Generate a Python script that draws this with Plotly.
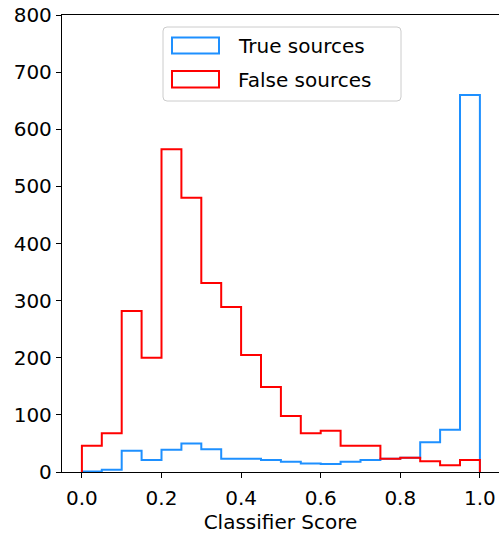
import plotly.graph_objects as go

bin_edges = [round(i * 0.05, 2) for i in range(21)]
true_counts = [1, 4, 37, 21, 39, 50, 40, 23, 23, 21, 18, 15, 14, 18, 21, 23, 25, 52, 74, 660]
false_counts = [46, 68, 282, 200, 565, 480, 331, 289, 205, 149, 98, 68, 72, 46, 46, 23, 25, 19, 12, 21]
series_names = ["True sources", "False sources"]
series_colors = ["#1E90FF", "#FF0000"]
x_ticks = [0.0, 0.2, 0.4, 0.6, 0.8, 1.0]
y_ticks = [0, 100, 200, 300, 400, 500, 600, 700, 800]

W, H = 499, 541
L, R, T, B = 62, 0, 15, 69
FS = 20

fig = go.Figure()
for name, counts, color in zip(series_names, [true_counts, false_counts], series_colors):
    xs = [bin_edges[0]] + bin_edges + [bin_edges[-1]]
    ys = [0] + counts + [counts[-1], 0]
    fig.add_trace(go.Scatter(x=xs, y=ys, mode="lines", line=dict(color=color, width=2, shape="hv"),
                             name=name, showlegend=False, hoverinfo="skip"))

pw = W - L - R
ph = H - T - B


def px(x):
    return (x - L) / pw


def py(y):
    return 1 - (y - T) / ph


shapes = []
x0, x1, y0, y1, r = 163, 401, 27, 101, 4
path = (f"M {px(x0 + r)},{py(y0)} L {px(x1 - r)},{py(y0)} Q {px(x1)},{py(y0)} {px(x1)},{py(y0 + r)} "
        f"L {px(x1)},{py(y1 - r)} Q {px(x1)},{py(y1)} {px(x1 - r)},{py(y1)} "
        f"L {px(x0 + r)},{py(y1)} Q {px(x0)},{py(y1)} {px(x0)},{py(y1 - r)} "
        f"L {px(x0)},{py(y0 + r)} Q {px(x0)},{py(y0)} {px(x0 + r)},{py(y0)} Z")
shapes.append(dict(type="path", xref="paper", yref="paper", path=path,
                   line=dict(color="#cccccc", width=1), fillcolor="rgba(255,255,255,0.8)", layer="above"))
annotations = []
rows = [(37.5, 53.5, 46), (71, 87.5, 80)]
for (ry0, ry1, ty), name, color in zip(rows, series_names, series_colors):
    shapes.append(dict(type="rect", xref="paper", yref="paper", x0=px(172), x1=px(219), y0=py(ry1), y1=py(ry0),
                       line=dict(color=color, width=2), fillcolor="rgba(0,0,0,0)", layer="above"))
    annotations.append(dict(xref="paper", yref="paper", x=px(236), y=py(ty), xanchor="left", yanchor="middle",
                            text=name, showarrow=False, font=dict(family="DejaVu Sans", size=FS, color="black")))

fig.update_layout(
    width=W, height=H,
    margin=dict(l=L, r=R, t=T, b=B, pad=0),
    plot_bgcolor="white", paper_bgcolor="white",
    font=dict(family="DejaVu Sans", size=FS, color="black"),
    shapes=shapes, annotations=annotations,
    showlegend=False,
)
fig.update_xaxes(range=[-0.05, -0.05 + pw / 398.0], tickvals=x_ticks, ticktext=[f"{v:.1f}" for v in x_ticks],
                 ticks="outside", ticklen=5, tickwidth=1.3, tickcolor="black", ticklabelstandoff=3,
                 showline=True, linecolor="black", linewidth=1.3, mirror=True, showgrid=False, zeroline=False,
                 title=dict(text="Classifier Score", font=dict(size=FS), standoff=5))
fig.update_yaxes(range=[0, 800], tickvals=y_ticks, ticks="outside", ticklen=5, tickwidth=1.3, tickcolor="black",
                 showline=True, linecolor="black", linewidth=1.3, showgrid=False, zeroline=False)

fig.write_html("out.html")
